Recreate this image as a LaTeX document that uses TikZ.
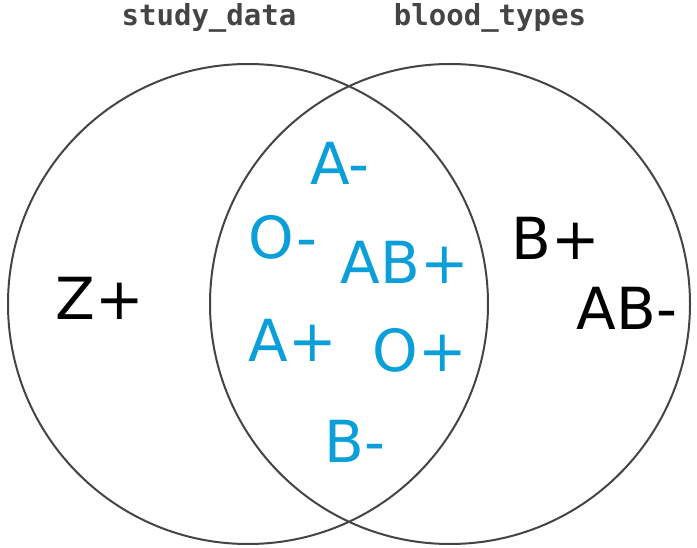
\documentclass[tikz,border=0pt]{standalone}
\usepackage{fontspec}
\setmainfont{DejaVu Sans}
\newfontfamily\monob{DejaVu Sans Mono}
\definecolor{ink}{HTML}{444444}
\definecolor{blu}{HTML}{0A9FD8}
\begin{document}
\begin{tikzpicture}[x=1pt,y=-1pt,
  circ/.style={draw=ink,line width=2pt},
  ttl/.style={text=ink,font=\monob\bfseries\fontsize{29}{32}\selectfont},
  lbl/.style={font=\fontsize{58}{62}\selectfont,inner sep=0pt},
  inner/.style={lbl,text=blu},
  outer/.style={lbl,text=black}]
\useasboundingbox (0,0) rectangle (697,548);
\draw[circ] (248,304) circle[radius=240];
\draw[circ] (450,304) circle[radius=240];
\node[ttl] (t1) at (209,18) {study\_data};
\node[ttl] (t2) at (490,18) {blood\_types};
\node[outer] (z) at (100,298) {Z+};
\node[outer] (bp) at (556,238) {B+};
\node[outer] (abm) at (627,308) {AB-};
\node[inner] (am) at (340,163) {A-};
\node[inner] (om) at (283,237) {O-};
\node[inner] (abp) at (405,262) {AB+};
\node[inner] (ap) at (293,340) {A+};
\node[inner] (op) at (420,350) {O+};
\node[inner] (bm) at (355,441) {B-};
\end{tikzpicture}
\end{document}
